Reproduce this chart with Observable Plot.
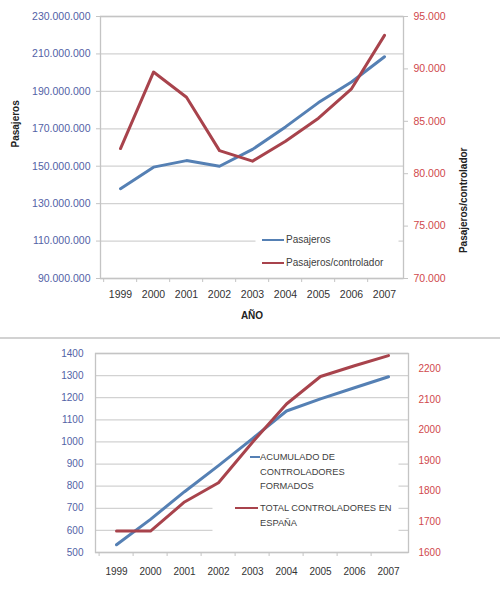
<!DOCTYPE html>
<html><head><meta charset="utf-8">
<script src="https://cdn.jsdelivr.net/npm/d3@7"></script>
<script src="https://cdn.jsdelivr.net/npm/@observablehq/plot@0.6"></script>
<style>
body{margin:0;background:#fff;font-family:"Liberation Sans",Arial,sans-serif;}
#wrap{position:relative;width:500px;height:591px;overflow:hidden;background:#fff}
.panel{position:absolute;left:0;width:500px}
.sep{position:absolute;left:0;top:337px;width:500px;height:2px;background:#d2d2d2}
.legend{position:absolute;color:#404040}
.row{position:absolute;white-space:nowrap}
.sw{position:absolute;height:2px}
</style>
</head><body>
<div id="wrap">
  <div id="top" class="panel" style="top:0"></div>
  <div class="sep"></div>
  <div id="bot" class="panel" style="top:340px"></div>
</div>
<script>
// ---- data ----
const years = ["1999","2000","2001","2002","2003","2004","2005","2006","2007"];
const pasajeros = [138e6, 149.5e6, 153e6, 150e6, 159e6, 171e6, 184e6, 195e6, 208.5e6];
const pasajerosControlador = [82400, 89700, 87300, 82200, 81200, 83100, 85300, 88100, 93200];
const acumuladoFormados = [535, 650, 775, 893, 1015, 1140, 1195, 1245, 1295];
const totalControladores = [1670, 1670, 1765, 1828, 1960, 2085, 2175, 2210, 2243];
const topLeftTicks = d3.range(90e6, 230e6 + 1, 20e6);
const topRightTicks = d3.range(70000, 95000 + 1, 5000);
const botLeftTicks = d3.range(500, 1400 + 1, 100);
const botRightTicks = d3.range(1600, 2200 + 1, 100);
const seriesNames = ["Pasajeros", "Pasajeros/controlador"];
const botSeriesNames = [["ACUMULADO DE", "CONTROLADORES", "FORMADOS"], ["TOTAL CONTROLADORES EN", "ESPAÑA"]];

const BLUE = "#5580b4", RED = "#a8434c";
const LBLUE = "#5262a6", LRED = "#d0484c";
const FONT = "'Liberation Sans', Arial, sans-serif";
const fmt = d => d3.format(",")(d).replace(/,/g, ".");

function dual(L, R) {
  const k = (L[1] - L[0]) / (R[1] - R[0]);
  return [v => L[0] + (v - R[0]) * k, v => R[0] + (v - L[0]) / k];
}

// ---- top chart ----
{
  const yL = [90e6, 230e6], yR = [70000, 95000];
  const [toL, toR] = dual(yL, yR);
  const W = 500, mL = 100, mR = 97, H = 337, mT = 16, mB = 59;
  const step = (W - mL - mR) / years.length;
  const blue = years.map((y, i) => ({year: y, v: pasajeros[i]}));
  const red = years.map((y, i) => ({year: y, v: toL(pasajerosControlador[i])}));
  const chart = Plot.plot({
    width: W, height: H, marginLeft: mL, marginRight: mR, marginTop: mT, marginBottom: mB,
    style: {fontFamily: FONT, fontSize: "10.5px", background: "#fff"},
    x: {type: "point", domain: years, padding: 0.5, axis: null},
    y: {domain: yL, axis: null},
    marks: [
      Plot.gridY(topLeftTicks, {stroke: "#d2d2d2", strokeOpacity: 1, strokeWidth: 1.3}),
      Plot.frame({fill: "#fff", stroke: null, insetLeft: 155, insetRight: 5, insetTop: 212, insetBottom: 6}),
      Plot.frame({stroke: "#c4c4c4", strokeWidth: 1.3}),
      Plot.ruleX(years, {x: d => d, y1: yL[0], y2: yL[0], insetBottom: -4, dx: -step / 2, stroke: "#c4c4c4"}),
      Plot.axisY(topLeftTicks, {anchor: "left", tickSize: 4, tickPadding: 6, stroke: "#c4c4c4", fill: LBLUE, tickFormat: fmt, label: null, fontSize: 10.5}),
      Plot.axisY(topRightTicks.map(toL), {anchor: "right", tickSize: 4, tickPadding: 6, stroke: "#c4c4c4", fill: LRED, tickFormat: v => fmt(Math.round(toR(v))), label: null, fontSize: 10.5}),
      Plot.axisX({anchor: "bottom", tickSize: 0, tickPadding: 12, fill: "#333", label: null, fontSize: 10.5}),
      Plot.line(blue, {x: "year", y: "v", stroke: BLUE, strokeWidth: 3, strokeLinejoin: "round"}),
      Plot.line(red, {x: "year", y: "v", stroke: RED, strokeWidth: 3, strokeLinejoin: "round"}),
      Plot.text(["Pasajeros"], {frameAnchor: "left", dx: -85, rotate: -90, fontWeight: "bold", fontSize: 10, fill: "#222"}),
      Plot.text(["Pasajeros/controlador"], {frameAnchor: "right", dx: 60, rotate: -90, fontWeight: "bold", fontSize: 10, fill: "#222"}),
      Plot.text(["AÑO"], {frameAnchor: "bottom", dy: 40, fontWeight: "bold", fontSize: 10, fill: "#222"})
    ]
  });
  const host = document.getElementById("top");
  host.style.height = H + "px";
  host.appendChild(chart);
  const lg = document.createElement("div");
  lg.className = "legend";
  lg.style.cssText = "left:255px;top:228px;width:143px;height:44px;font-size:10px;";
  [BLUE, RED].forEach((c, i) => {
    const cy = 12 + i * 23;
    lg.insertAdjacentHTML("beforeend",
      `<div class="sw" style="left:7px;top:${cy - 1}px;width:22px;background:${c}"></div>` +
      `<div class="row" style="left:31px;top:${cy - 6}px;line-height:12px">${seriesNames[i]}</div>`);
  });
  host.appendChild(lg);
}

// ---- bottom chart ----
{
  const yL = [500, 1400], yR = [1600, 2250];
  const [toL, toR] = dual(yL, yR);
  const W = 500, mL = 95, mR = 92, H = 251, mT = 13, mB = 39;
  const step = (W - mL - mR) / years.length;
  const blue = years.map((y, i) => ({year: y, v: acumuladoFormados[i]}));
  const red = years.map((y, i) => ({year: y, v: toL(totalControladores[i])}));
  const chart = Plot.plot({
    width: W, height: H, marginLeft: mL, marginRight: mR, marginTop: mT, marginBottom: mB,
    style: {fontFamily: FONT, fontSize: "10px", background: "#fff"},
    x: {type: "point", domain: years, padding: 0.5, axis: null},
    y: {domain: yL, axis: null},
    marks: [
      Plot.gridY(botLeftTicks, {stroke: "#d2d2d2", strokeOpacity: 1, strokeWidth: 1.3}),
      Plot.frame({fill: "#fff", stroke: null, insetLeft: 117, insetRight: 10, insetTop: 96, insetBottom: 17}),
      Plot.frame({stroke: "#c4c4c4", strokeWidth: 1.3}),
      Plot.ruleX(years, {x: d => d, y1: yL[0], y2: yL[0], insetBottom: -4, dx: -step / 2, stroke: "#c4c4c4"}),
      Plot.axisY(botLeftTicks, {anchor: "left", tickSize: 0, tickPadding: 12, fill: LBLUE, tickFormat: d => String(d), label: null, fontSize: 10}),
      Plot.axisY(botRightTicks.map(toL), {anchor: "right", tickSize: 0, tickPadding: 10, fill: LRED, tickFormat: v => String(Math.round(toR(v))), label: null, fontSize: 10}),
      Plot.axisX({anchor: "bottom", tickSize: 0, tickPadding: 15, fill: "#333", label: null, fontSize: 10}),
      Plot.line(blue, {x: "year", y: "v", stroke: BLUE, strokeWidth: 3, strokeLinejoin: "round"}),
      Plot.line(red, {x: "year", y: "v", stroke: RED, strokeWidth: 3, strokeLinejoin: "round"})
    ]
  });
  const host = document.getElementById("bot");
  host.style.height = H + "px";
  host.appendChild(chart);
  const lg = document.createElement("div");
  lg.className = "legend";
  lg.style.cssText = "left:230px;top:108px;width:168px;height:88px;font-size:9.3px;";
  const rows = [
    {c: BLUE, x0: 20, w: 10, y: 9, lines: botSeriesNames[0]},
    {c: RED, x0: 5, w: 23, y: 60, lines: botSeriesNames[1]}
  ];
  rows.forEach(r => {
    lg.insertAdjacentHTML("beforeend",
      `<div class="sw" style="left:${r.x0}px;top:${r.y - 1}px;width:${r.w}px;background:${r.c}"></div>` +
      `<div class="row" style="left:30px;top:${r.y - 7}px;line-height:14.5px">${r.lines.join("<br>")}</div>`);
  });
  host.appendChild(lg);
}
</script>
</body></html>
